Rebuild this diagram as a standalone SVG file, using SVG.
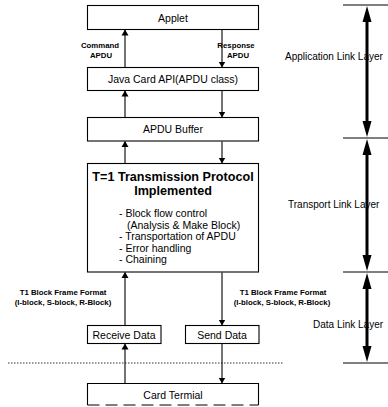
<svg xmlns="http://www.w3.org/2000/svg" width="388" height="407" viewBox="0 0 388 407">
<style>
.box{fill:#fff;stroke:#000;stroke-width:1.1}
.t{font-family:"Liberation Sans",Arial,sans-serif;fill:#000}
.lbl{font-size:10.5px;text-anchor:middle}
.sm{font-size:7.8px;font-weight:bold;text-anchor:middle}
.lay{font-size:10px}
.con{stroke:#000;stroke-width:1.1;fill:none}
.thick{stroke:#000;stroke-width:3;fill:none}
.bh{fill:#000}
</style>
<defs>
<marker id="ah" markerWidth="6" markerHeight="8" refX="5.5" refY="4" orient="auto" markerUnits="userSpaceOnUse">
<path d="M0,0.5 L6,4 L0,7.5 Z" fill="#000"/>
</marker>
</defs>
<rect width="388" height="407" fill="#fff"/>

<g id="applet"><rect class="box" x="87.5" y="5.5" width="171" height="24"/><text class="t lbl" x="173" y="21.5">Applet</text></g>
<g id="javacard"><rect class="box" x="87.5" y="67.5" width="171" height="23"/><text class="t lbl" x="173" y="83">Java Card API(APDU class)</text></g>
<g id="apdubuffer"><rect class="box" x="87.5" y="117.5" width="171" height="23.5"/><text class="t lbl" x="173" y="133">APDU Buffer</text></g>
<g id="t1protocol"><rect class="box" x="87.5" y="163.5" width="171" height="108.5"/>
<text class="t" x="173" y="181" font-size="12.6" font-weight="bold" text-anchor="middle">T=1 Transmission Protocol</text>
<text class="t" x="173" y="195" font-size="12.6" font-weight="bold" text-anchor="middle">Implemented</text>
<g class="t" font-size="10.5">
<text x="119" y="217">- Block flow control</text>
<text x="127" y="228.5">(Analysis &amp; Make Block)</text>
<text x="119" y="240">- Transportation of APDU</text>
<text x="119" y="251.5">- Error handling</text>
<text x="119" y="263">- Chaining</text>
</g></g>
<g id="receive"><rect class="box" x="87.5" y="325.5" width="73.5" height="18"/><text class="t lbl" x="124" y="338.5">Receive Data</text></g>
<g id="send"><rect class="box" x="185.5" y="325.5" width="73.5" height="18"/><text class="t lbl" x="222" y="338.5">Send Data</text></g>
<g id="cardterminal"><path class="box" d="M87.5,405 V383.5 H258.5 V405"/><path d="M87.5,405 H258.5" stroke="#000" stroke-width="1.1" stroke-dasharray="12,6"/><text class="t lbl" x="173" y="398.5">Card Termial</text></g>

<g id="labels">
<text class="t sm" x="100" y="48">Command</text>
<text class="t sm" x="101" y="58">APDU</text>
<text class="t sm" x="236" y="48">Response</text>
<text class="t sm" x="238" y="58">APDU</text>
<text class="t sm" x="63" y="295">T1 Block Frame Format</text>
<text class="t sm" x="63" y="305">(I-block, S-block, R-Block)</text>
<text class="t sm" x="283" y="295">T1 Block Frame Format</text>
<text class="t sm" x="282" y="305">(I-block, S-block, R-Block)</text>
</g>

<g id="connectors">
<line class="con" x1="125" y1="67" x2="125" y2="30" marker-end="url(#ah)"/>
<line class="con" x1="222" y1="30" x2="222" y2="67" marker-end="url(#ah)"/>
<line class="con" x1="125" y1="117" x2="125" y2="91" marker-end="url(#ah)"/>
<line class="con" x1="222" y1="91" x2="222" y2="117" marker-end="url(#ah)"/>
<line class="con" x1="125" y1="163" x2="125" y2="141.5" marker-end="url(#ah)"/>
<line class="con" x1="222" y1="141.5" x2="222" y2="163" marker-end="url(#ah)"/>
<line class="con" x1="125" y1="325" x2="125" y2="272.5" marker-end="url(#ah)"/>
<line class="con" x1="222" y1="272.5" x2="222" y2="325" marker-end="url(#ah)"/>
<line class="con" x1="125" y1="383" x2="125" y2="344" marker-end="url(#ah)"/>
<line class="con" x1="222" y1="344" x2="222" y2="383" marker-end="url(#ah)"/>
<line x1="8" y1="363" x2="283" y2="363" stroke="#000" stroke-width="0.8" stroke-dasharray="1.5,1.5"/>
</g>

<g id="layers">
<text class="t lay" x="285" y="60">Application Link Layer</text>
<text class="t lay" x="288" y="208">Transport Link Layer</text>
<text class="t lay" x="313" y="328">Data Link Layer</text>
<g stroke="#000" stroke-width="1">
<line x1="343" y1="5" x2="388" y2="5"/>
<line x1="343" y1="138" x2="388" y2="138"/>
<line x1="343" y1="272" x2="388" y2="272"/>
<line x1="343" y1="363" x2="388" y2="363"/>
</g>
<line class="thick" x1="367" y1="18" x2="367" y2="125"/>
<polygon class="bh" points="367,6 371.5,22 362.5,22"/>
<polygon class="bh" points="367,137 371.5,121 362.5,121"/>
<line class="thick" x1="367" y1="151" x2="367" y2="259"/>
<polygon class="bh" points="367,139 371.5,155 362.5,155"/>
<polygon class="bh" points="367,271 371.5,255 362.5,255"/>
<line class="thick" x1="367" y1="285" x2="367" y2="350"/>
<polygon class="bh" points="367,273 371.5,289 362.5,289"/>
<polygon class="bh" points="367,362 371.5,346 362.5,346"/>
</g>
</svg>
